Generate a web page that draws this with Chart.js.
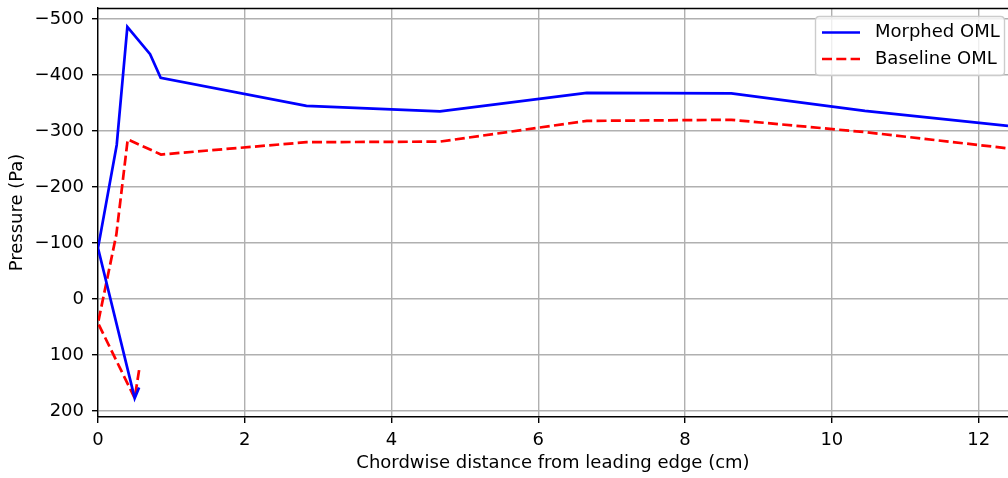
<!DOCTYPE html>
<html>
<head>
<meta charset="utf-8">
<script src="https://cdn.jsdelivr.net/npm/chart.js@4/dist/chart.umd.min.js"></script>
<style>
  html, body { margin: 0; padding: 0; background: #ffffff; }
  #wrap { width: 1008px; height: 478px; }
</style>
</head>
<body>
<div id="wrap"><canvas id="c" width="1008" height="478"></canvas></div>
<script>
// Surface pressure along the chord, lower-surface taps first, then the upper surface
const morphedX  = [0.56, 0.50, 0.00, 0.255, 0.40, 0.71, 0.854, 2.84, 4.66, 6.66, 8.63, 10.45, 12.4];
const morphedP  = [158, 177, -91, -275, -486, -437, -395, -345, -335, -368, -367, -336, -309];
const baselineX = [0.56, 0.50, 0.00, 0.25, 0.405, 0.858, 2.84, 4.66, 6.66, 8.63, 10.45, 12.4];
const baselineP = [127, 177, 43, -115, -285, -258, -280, -281, -318, -320, -298, -269];
const seriesNames = ['Morphed OML', 'Baseline OML'];
const xTicks = [0, 2, 4, 6, 8, 10, 12];
const yTicks = [-500, -400, -300, -200, -100, 0, 100, 200];

const FONT = 'DejaVu Sans';
const FSIZE = 18;
const LINE_W = 2.7;
const DASH = [10, 4.3];
const pts = (xs, ys) => xs.map((x, i) => ({ x: x, y: ys[i] }));

// Top spine of the axes frame
const frame = {
  id: 'frame',
  afterDraw(chart) {
    const { ctx, chartArea: a } = chart;
    ctx.save();
    ctx.strokeStyle = '#000000';
    ctx.lineWidth = 1.4;
    ctx.beginPath();
    ctx.moveTo(a.left, a.top + 0.5);
    ctx.lineTo(a.right, a.top + 0.5);
    ctx.stroke();
    ctx.restore();
  }
};

// Boxed legend in the upper right corner
const boxLegend = {
  id: 'boxLegend',
  afterDraw(chart) {
    const { ctx } = chart;
    const x0 = 815.5, y0 = 16.5, x1 = 1004.5, y1 = 75.5, r = 4;
    ctx.save();
    ctx.beginPath();
    ctx.moveTo(x0 + r, y0);
    ctx.lineTo(x1 - r, y0);
    ctx.quadraticCurveTo(x1, y0, x1, y0 + r);
    ctx.lineTo(x1, y1 - r);
    ctx.quadraticCurveTo(x1, y1, x1 - r, y1);
    ctx.lineTo(x0 + r, y1);
    ctx.quadraticCurveTo(x0, y1, x0, y1 - r);
    ctx.lineTo(x0, y0 + r);
    ctx.quadraticCurveTo(x0, y0, x0 + r, y0);
    ctx.closePath();
    ctx.fillStyle = 'rgba(255,255,255,0.8)';
    ctx.fill();
    ctx.strokeStyle = '#cccccc';
    ctx.lineWidth = 1.4;
    ctx.stroke();

    const rows = [32.5, 59];
    chart.data.datasets.forEach((ds, i) => {
      const y = rows[i];
      ctx.strokeStyle = ds.borderColor;
      ctx.lineWidth = ds.borderWidth;
      ctx.setLineDash(ds.borderDash || []);
      ctx.beginPath();
      ctx.moveTo(822, y);
      ctx.lineTo(860, y);
      ctx.stroke();
      ctx.setLineDash([]);
      ctx.fillStyle = '#000000';
      ctx.font = FSIZE + 'px "' + FONT + '"';
      ctx.textBaseline = 'middle';
      ctx.textAlign = 'left';
      ctx.fillText(ds.label, 875, y);
    });
    ctx.restore();
  }
};

const gridStyle = {
  color: '#b0b0b0',
  lineWidth: 1.4,
  tickColor: '#000000',
  tickWidth: 1.4,
  tickLength: 6
};

new Chart(document.getElementById('c'), {
  type: 'scatter',
  data: {
    datasets: [
      {
        label: seriesNames[0],
        data: pts(morphedX, morphedP),
        showLine: true,
        borderColor: '#0000ff',
        borderWidth: LINE_W,
        pointRadius: 0,
        tension: 0
      },
      {
        label: seriesNames[1],
        data: pts(baselineX, baselineP),
        showLine: true,
        borderColor: '#ff0000',
        borderWidth: LINE_W,
        borderDash: DASH,
        pointRadius: 0,
        tension: 0
      }
    ]
  },
  options: {
    responsive: false,
    animation: false,
    layout: { padding: { top: 8, right: 0, bottom: 0, left: 0 } },
    plugins: {
      legend: { display: false },
      tooltip: { enabled: false }
    },
    scales: {
      x: {
        type: 'linear',
        min: 0,
        max: 12.4,
        afterFit(s) { s.height = 61; s.paddingLeft = 0; s.paddingRight = 0; },
        afterBuildTicks(s) { s.ticks = xTicks.map(v => ({ value: v })); },
        ticks: {
          includeBounds: false,
          color: '#000000',
          padding: 7,
          maxRotation: 0,
          font: { family: FONT, size: FSIZE },
          callback: v => String(v)
        },
        grid: gridStyle,
        border: { color: '#000000', width: 1.4 },
        title: {
          display: true,
          text: 'Chordwise distance from leading edge (cm)',
          color: '#000000',
          font: { family: FONT, size: FSIZE },
          padding: { top: 0, bottom: 4 }
        }
      },
      y: {
        type: 'linear',
        reverse: true,
        min: -519.6,
        max: 210.7,
        afterFit(s) { s.width = 98; s.paddingTop = 0; s.paddingBottom = 0; },
        afterBuildTicks(s) { s.ticks = yTicks.map(v => ({ value: v })); },
        ticks: {
          includeBounds: false,
          color: '#000000',
          padding: 8,
          font: { family: FONT, size: FSIZE },
          callback: v => String(v).replace('-', '\u2212')
        },
        grid: gridStyle,
        border: { color: '#000000', width: 1.4 },
        title: {
          display: true,
          text: 'Pressure (Pa)',
          color: '#000000',
          font: { family: FONT, size: FSIZE },
          padding: { top: 7, bottom: 0 }
        }
      }
    }
  },
  plugins: [frame, boxLegend]
});
</script>
</body>
</html>
